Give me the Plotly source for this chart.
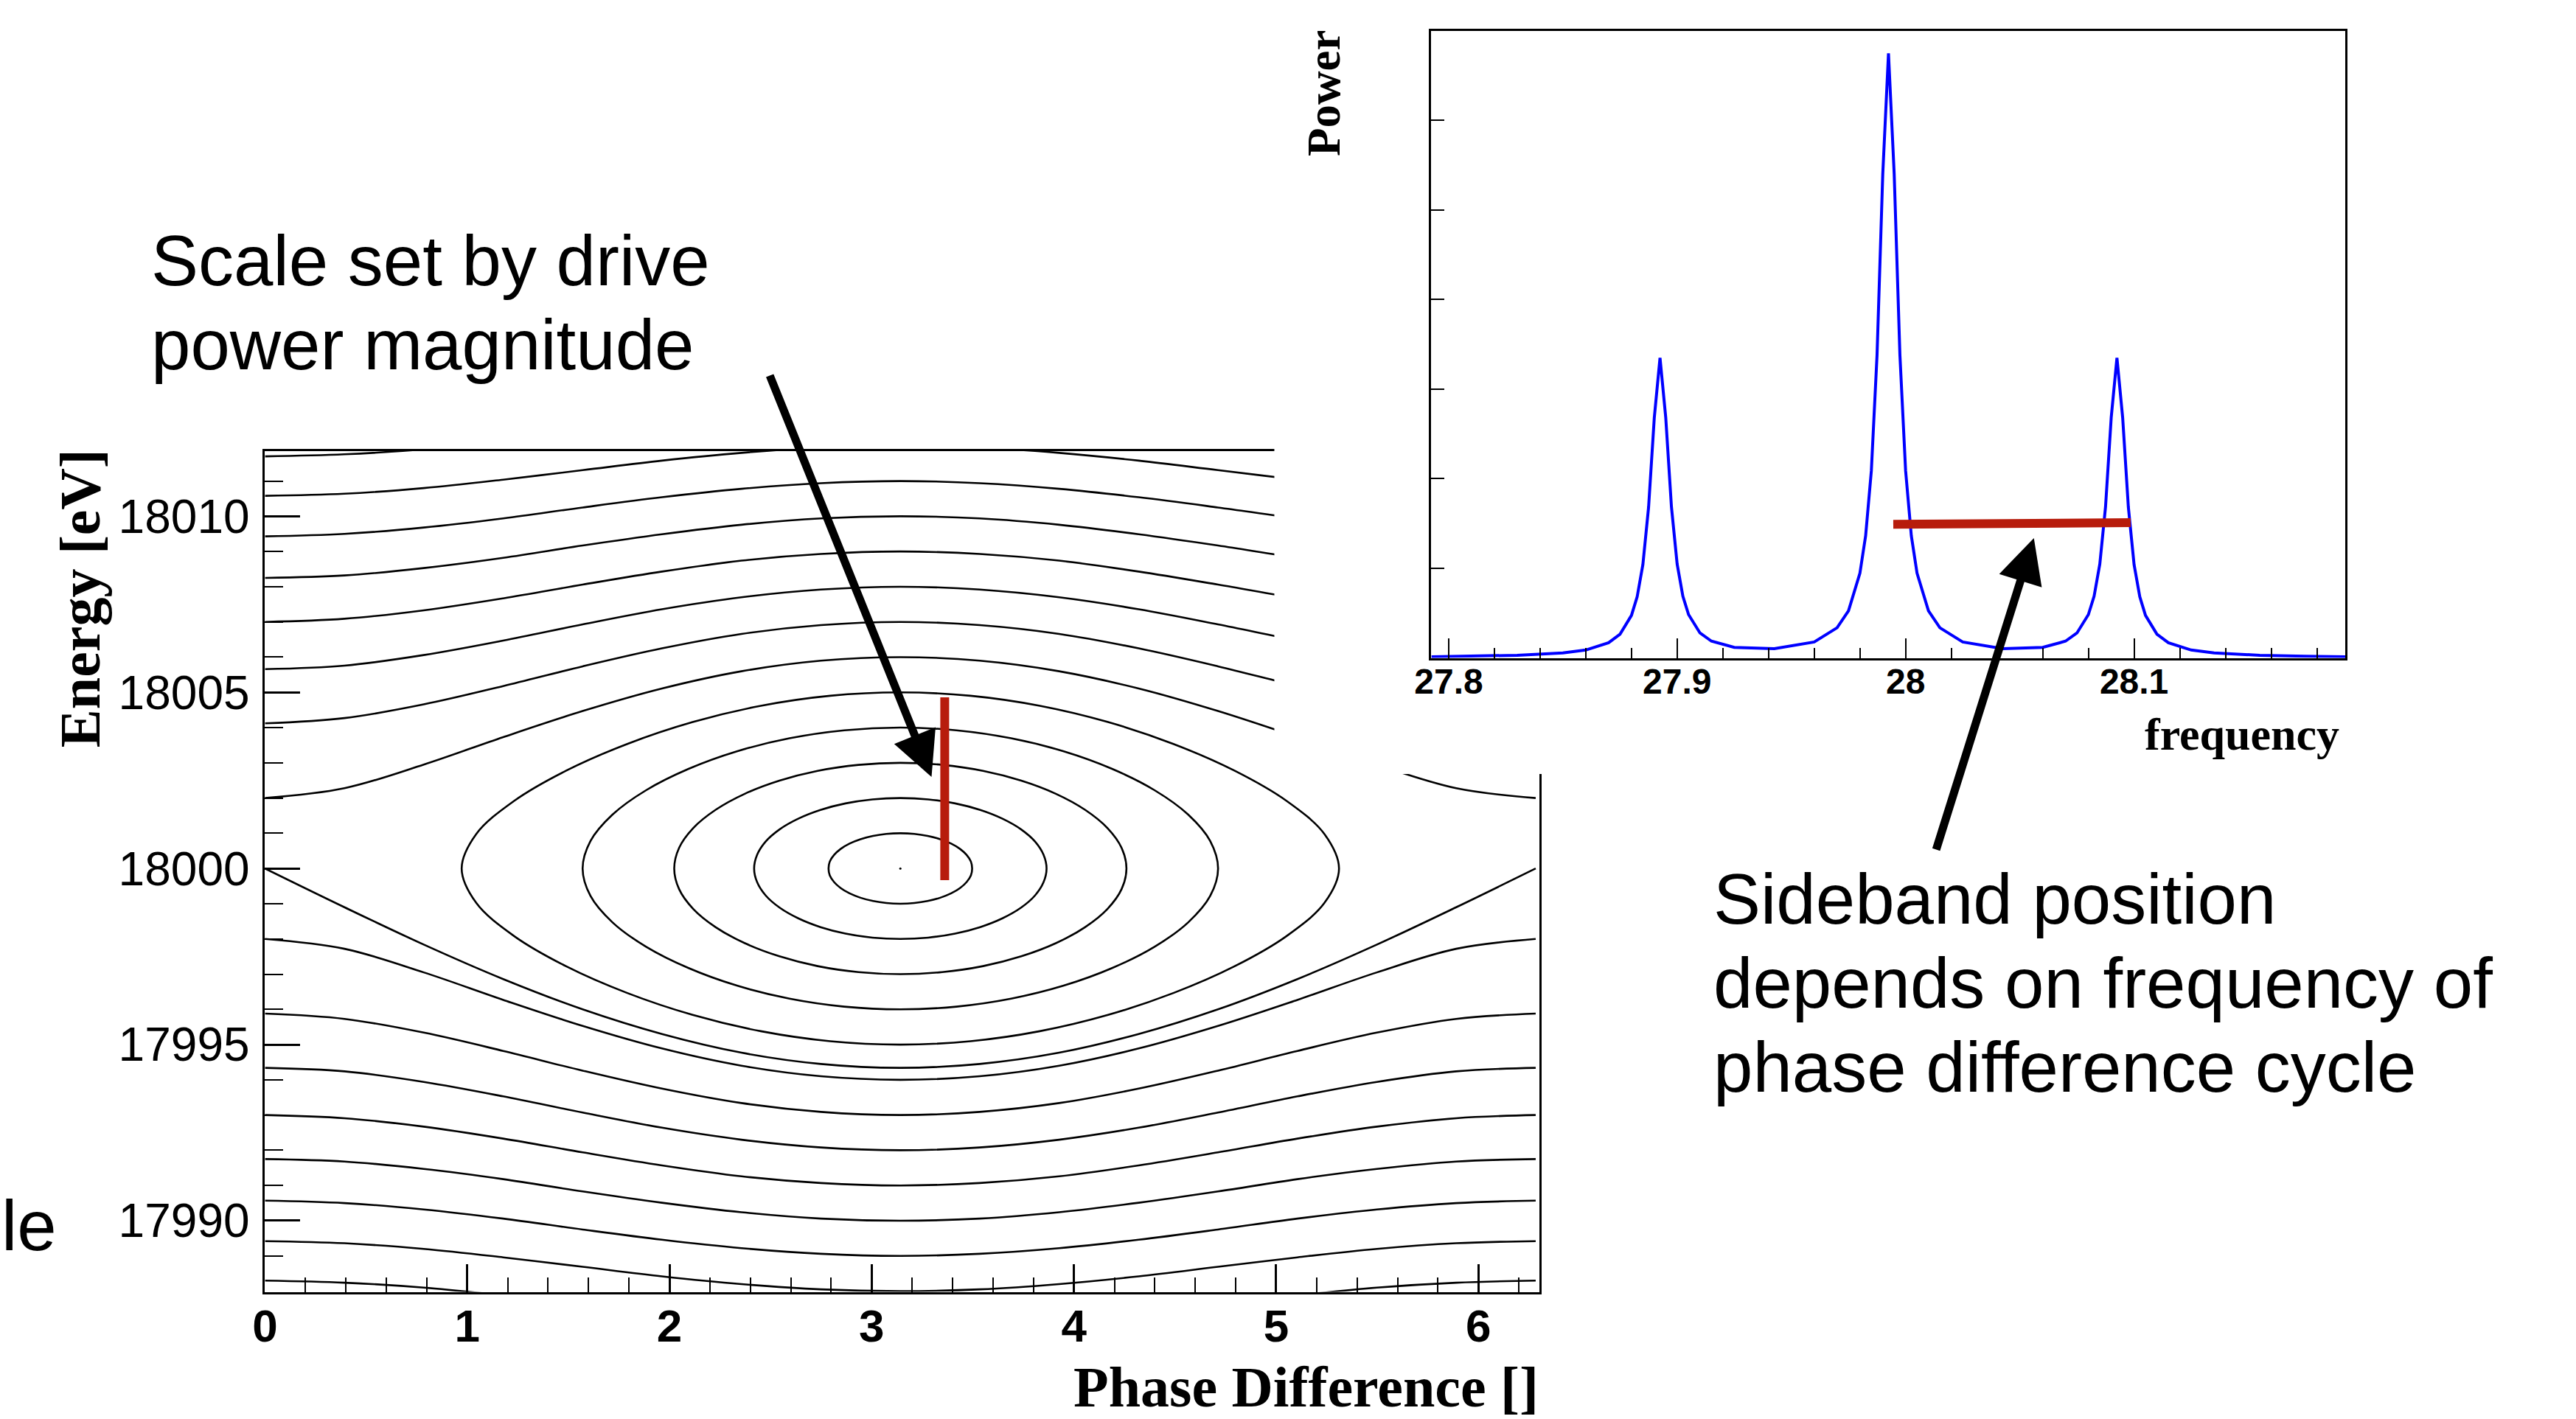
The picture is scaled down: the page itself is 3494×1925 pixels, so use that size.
import plotly.graph_objects as go

# target picture size; the figure is a little wider so that its left edge can sit at the window edge
PAGE_W, PAGE_H = 3494, 1925
SHIFT_LEFT = 23          # css left shift of the page body (px)
SCALE_X, OFFSET_X = 0.99334, 22.5   # measured horizontal page -> picture mapping
W, H = 3518, 1925

# ---------------- Left panel: phase-space trajectories ----------------
PI = 3.1416
E_REF = 18000.0

# phase sample points from 0 to pi (the portrait is mirror-symmetric about pi)
phase_half = [0.0, 0.393, 0.785, 1.178, 1.571, 1.963, 2.356, 2.749, 3.142]

# rotating (open) trajectories: |E - 18000| read at each phase_half point,
# keyed by the offset reached at phase = pi; drawn above and below 18000
open_orbit_dE = {
    6:  [2.00, 2.28, 2.95, 3.73, 4.47, 5.11, 5.60, 5.90, 6.00],
    7:  [4.12, 4.27, 4.66, 5.18, 5.74, 6.25, 6.66, 6.91, 7.00],
    8:  [5.66, 5.76, 6.06, 6.47, 6.93, 7.36, 7.70, 7.92, 8.00],
    9:  [7.00, 7.09, 7.33, 7.67, 8.06, 8.43, 8.74, 8.93, 9.00],
    10: [8.25, 8.32, 8.53, 8.82, 9.17, 9.49, 9.76, 9.94, 10.00],
    11: [9.43, 9.50, 9.68, 9.94, 10.25, 10.54, 10.78, 10.94, 11.00],
    12: [10.58, 10.64, 10.80, 11.04, 11.31, 11.58, 11.80, 11.95, 12.00],
    13: [11.70, 11.76, 11.90, 12.12, 12.37, 12.61, 12.82, 12.95, 13.00],
}
open_orbit_sides = [1, -1]

# lower branch of the separatrix (E below 18000)
separatrix_dE = [0.00, 1.10, 2.16, 3.14, 4.00, 4.70, 5.23, 5.55, 5.66]

# closed orbits around (pi, 18000): one quarter of each orbit,
# phase offset from pi and energy offset, from the tip to the top
eye_dphi = {
    1: [0.355, 0.349, 0.328, 0.295, 0.251, 0.197, 0.135, 0.069, 0.0],
    2: [0.723, 0.708, 0.666, 0.597, 0.505, 0.395, 0.271, 0.138, 0.0],
    3: [1.118, 1.094, 1.024, 0.913, 0.769, 0.598, 0.409, 0.207, 0.0],
    4: [1.571, 1.532, 1.423, 1.257, 1.047, 0.808, 0.548, 0.277, 0.0],
    5: [2.169, 2.097, 1.911, 1.652, 1.350, 1.027, 0.690, 0.347, 0.0],
}
eye_dE = {
    1: [0.0, 0.195, 0.383, 0.556, 0.707, 0.831, 0.924, 0.981, 1.0],
    2: [0.0, 0.390, 0.765, 1.111, 1.414, 1.663, 1.848, 1.962, 2.0],
    3: [0.0, 0.585, 1.148, 1.667, 2.121, 2.494, 2.772, 2.942, 3.0],
    4: [0.0, 0.780, 1.531, 2.222, 2.828, 3.326, 3.696, 3.923, 4.0],
    5: [0.0, 0.976, 1.913, 2.778, 3.536, 4.157, 4.619, 4.904, 5.0],
}

# red scale marker (drive power magnitude)
scale_bar_phase = [3.361, 3.361]
scale_bar_energy = [17999.67, 18004.86]

# ---------------- Right panel: power spectrum ----------------
freq = [27.7925, 27.81, 27.83, 27.85, 27.86, 27.87, 27.875, 27.88, 27.8825, 27.885,
        27.8875, 27.89, 27.8925, 27.895, 27.8975, 27.9, 27.9025, 27.905, 27.91, 27.915,
        27.925, 27.9425, 27.96, 27.97, 27.975, 27.98, 27.9825, 27.985, 27.9875, 27.99,
        27.9925, 27.995, 27.9975, 28.0, 28.0025, 28.005, 28.01, 28.015, 28.025, 28.0425,
        28.06, 28.07, 28.075, 28.08, 28.0825, 28.085, 28.0875, 28.09, 28.0925, 28.095,
        28.0975, 28.1, 28.1025, 28.105, 28.11, 28.115, 28.125, 28.135, 28.155, 28.175,
        28.1925]
power = [0.013, 0.018, 0.029, 0.055, 0.088, 0.170, 0.265, 0.474, 0.682, 1.041,
         1.682, 2.682, 3.349, 2.684, 1.686, 1.047, 0.689, 0.483, 0.278, 0.187,
         0.117, 0.103, 0.178, 0.336, 0.526, 0.946, 1.363, 2.088, 3.382, 5.401,
         6.747, 5.401, 3.382, 2.088, 1.363, 0.946, 0.526, 0.336, 0.178, 0.103,
         0.117, 0.187, 0.278, 0.483, 0.689, 1.047, 1.686, 2.684, 3.349, 2.682,
         1.682, 1.041, 0.682, 0.474, 0.265, 0.170, 0.088, 0.055, 0.029, 0.018,
         0.013]

# red sideband-spacing marker
sideband_freq = [27.9946, 28.0985]
sideband_power = [1.49, 1.51]

# tick labels
left_x_ticks = [0, 1, 2, 3, 4, 5, 6]
left_y_ticks = [17990, 17995, 18000, 18005, 18010]
right_x_ticks = [27.8, 27.9, 28.0, 28.1]
right_x_labels = ["27.8", "27.9", "28", "28.1"]

RED = "#b71c0c"
fig = go.Figure()

# full phase axis 0..2pi (mirror of the half samples)
phase_full = phase_half + [round(2 * PI - p, 3) for p in reversed(phase_half[:-1])]
orbit_line = dict(color="black", width=2.6, shape="spline", smoothing=1.0)

for n, vals in open_orbit_dE.items():
    full_vals = vals + vals[-2::-1]
    for side in open_orbit_sides:
        fig.add_trace(go.Scatter(
            x=phase_full, y=[E_REF + side * v for v in full_vals],
            mode="lines", line=orbit_line, xaxis="x", yaxis="y",
            hoverinfo="skip", showlegend=False))

sep_full = separatrix_dE + separatrix_dE[-2::-1]
fig.add_trace(go.Scatter(
    x=phase_full, y=[E_REF - v for v in sep_full],
    mode="lines", line=orbit_line, xaxis="x", yaxis="y",
    hoverinfo="skip", showlegend=False))

for a in eye_dphi:
    dphi, de = eye_dphi[a], eye_dE[a]
    xs, ys = [], []
    for i in range(8, -1, -1):
        xs.append(PI + dphi[i]); ys.append(E_REF + de[i])
    for i in range(1, 9):
        xs.append(PI + dphi[i]); ys.append(E_REF - de[i])
    for i in range(7, -1, -1):
        xs.append(PI - dphi[i]); ys.append(E_REF - de[i])
    for i in range(1, 9):
        xs.append(PI - dphi[i]); ys.append(E_REF + de[i])
    fig.add_trace(go.Scatter(
        x=xs, y=ys, mode="lines", line=orbit_line, fill="toself",
        fillcolor="rgba(0,0,0,0)", xaxis="x", yaxis="y",
        hoverinfo="skip", showlegend=False))

fig.add_trace(go.Scatter(x=[PI], y=[E_REF], mode="markers",
                         marker=dict(color="black", size=3),
                         xaxis="x", yaxis="y", hoverinfo="skip", showlegend=False))

fig.add_trace(go.Scatter(x=scale_bar_phase, y=scale_bar_energy, mode="lines",
                         line=dict(color=RED, width=12), xaxis="x", yaxis="y",
                         hoverinfo="skip", showlegend=False))

# white panel of the inset picture that hides the upper-right corner of the left plot
fig.add_trace(go.Scatter(x=[0, 1, 1, 0, 0], y=[0, 0, 1, 1, 0], mode="lines",
                         fill="toself", fillcolor="white", line=dict(width=0, color="white"),
                         xaxis="x2", yaxis="y2", hoverinfo="skip", showlegend=False))

# right panel
fig.add_trace(go.Scatter(x=freq, y=power, mode="lines",
                         line=dict(color="#0000ff", width=4),
                         xaxis="x3", yaxis="y3", hoverinfo="skip", showlegend=False))
fig.add_trace(go.Scatter(x=sideband_freq, y=sideband_power, mode="lines",
                         line=dict(color=RED, width=12),
                         xaxis="x3", yaxis="y3", hoverinfo="skip", showlegend=False))


def px_x(p):
    """picture pixel (x) -> paper fraction"""
    return ((p - OFFSET_X) / SCALE_X + SHIFT_LEFT) / W


def px_y(p):
    return 1 - p / H


sans = "Liberation Sans, Arial, Helvetica, sans-serif"
serif = "Liberation Serif, Times New Roman, serif"

common_axis = dict(showline=True, linecolor="black", mirror=True, showgrid=False,
                   zeroline=False, ticks="inside", tickcolor="black")

fig.update_layout(
    width=W, height=H, margin=dict(l=0, r=0, t=0, b=0),
    paper_bgcolor="white", plot_bgcolor="white", showlegend=False,
    xaxis=dict(domain=[px_x(359), px_x(2087)], range=[0, 6.3], anchor="y",
               tickmode="array", tickvals=left_x_ticks, ticktext=[str(t) for t in left_x_ticks],
               ticklen=38, tickwidth=2.5, linewidth=3, ticklabelstandoff=-10,
               minor=dict(ticks="inside", dtick=0.2, tick0=0, ticklen=20, tickwidth=2, tickcolor="black"),
               tickfont=dict(family=sans, size=62, color="black", weight="bold"),
               **common_axis),
    yaxis=dict(domain=[px_y(1752.5), px_y(611.5)], range=[17987.98, 18011.86], anchor="x",
               tickmode="array", tickvals=left_y_ticks, ticktext=[str(t) for t in left_y_ticks],
               ticklen=48, tickwidth=2.5, linewidth=3, ticklabelstandoff=5,
               minor=dict(ticks="inside", dtick=1, tick0=18000, ticklen=25, tickwidth=2, tickcolor="black"),
               tickfont=dict(family=sans, size=64, color="black"),
               **common_axis),
    xaxis2=dict(domain=[px_x(1728), px_x(2110)], range=[0, 1], visible=False, anchor="y2"),
    yaxis2=dict(domain=[px_y(1050), 1.0], range=[0, 1], visible=False, anchor="x2"),
    xaxis3=dict(domain=[px_x(1940.5), px_x(3180.5)], range=[27.7923, 28.1925], anchor="y3",
                tickmode="array", tickvals=right_x_ticks, ticktext=right_x_labels,
                ticklen=27, tickwidth=2, linewidth=3, ticklabelstandoff=-12,
                minor=dict(ticks="inside", dtick=0.02, tick0=27.8, ticklen=14, tickwidth=2, tickcolor="black"),
                tickfont=dict(family=sans, size=48, color="black", weight="bold"),
                **common_axis),
    yaxis3=dict(domain=[px_y(892.5), px_y(41.5)], range=[0, 7], anchor="x3",
                dtick=1, tick0=0, ticklen=18, tickwidth=2, linewidth=3,
                showticklabels=False, **common_axis),
)

annotations = [
    dict(text="Scale set by drive", x=px_x(203), y=px_y(353.8), xanchor="left", yanchor="middle",
         font=dict(family=sans, size=96, color="black")),
    dict(text="power magnitude", x=px_x(203), y=px_y(467.1), xanchor="left", yanchor="middle",
         font=dict(family=sans, size=96, color="black")),
    dict(text="Sideband position", x=px_x(2321), y=px_y(1219.7), xanchor="left", yanchor="middle",
         font=dict(family=sans, size=96, color="black")),
    dict(text="depends on frequency of", x=px_x(2321), y=px_y(1333.7), xanchor="left", yanchor="middle",
         font=dict(family=sans, size=96, color="black")),
    dict(text="phase difference cycle", x=px_x(2321), y=px_y(1447.7), xanchor="left", yanchor="middle",
         font=dict(family=sans, size=96, color="black")),
    dict(text="le", x=px_x(0), y=px_y(1662), xanchor="left", yanchor="middle",
         font=dict(family=sans, size=96, color="black")),
    dict(text="Energy [eV]", x=px_x(108.4), y=px_y(811.5), xanchor="center", yanchor="middle",
         textangle=-90, font=dict(family=serif, size=78, color="black", weight="bold")),
    dict(text="Phase Difference []", x=px_x(2088), y=px_y(1881), xanchor="right", yanchor="middle",
         font=dict(family=serif, size=78, color="black", weight="bold")),
    dict(text="Power", x=px_x(1794.7), y=px_y(126.7), xanchor="center", yanchor="middle",
         textangle=-90, font=dict(family=serif, size=63, color="black", weight="bold")),
    dict(text="frequency", x=px_x(3174), y=px_y(995.8), xanchor="right", yanchor="middle",
         font=dict(family=serif, size=62, color="black", weight="bold")),
    dict(text="", x=px_x(1263), y=px_y(1054), ax=-220, ay=-546, showarrow=True,
         arrowhead=2, arrowsize=1.1, arrowwidth=11, arrowcolor="black"),
    dict(text="", x=px_x(2758), y=px_y(730), ax=-133, ay=424, showarrow=True,
         arrowhead=2, arrowsize=1.1, arrowwidth=11, arrowcolor="black"),
]
for ann in annotations:
    ann.setdefault("showarrow", False)
    ann["xref"] = "paper"
    ann["yref"] = "paper"
fig.update_layout(annotations=annotations)

page_css = ("document.documentElement.style.overflow='hidden';"
            "document.body.style.overflow='hidden';"
            "document.body.style.margin='0px';"
            "document.body.style.marginLeft='-%dpx';" % SHIFT_LEFT)

fig.write_html("out.html", config={"displayModeBar": False}, post_script=page_css)
